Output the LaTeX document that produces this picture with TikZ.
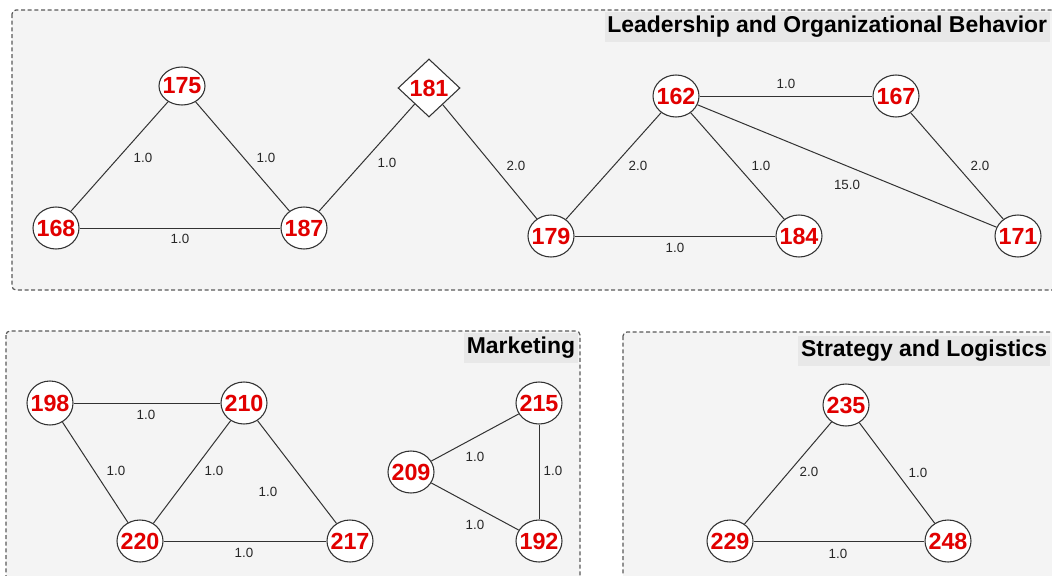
\documentclass[tikz,border=0pt]{standalone}
\usepackage{fontspec}
\setmainfont{Liberation Sans}
\usetikzlibrary{shapes.geometric}
\definecolor{boxfill}{RGB}{244,244,244}
\definecolor{titlefill}{RGB}{232,232,232}
\definecolor{boxline}{RGB}{90,90,90}
\definecolor{edgecol}{RGB}{50,50,50}
\definecolor{nodered}{RGB}{225,0,0}
\tikzset{
  grp/.style={draw=boxline, fill=boxfill, line width=0.9pt, dash pattern=on 3pt off 2pt, rounded corners=3pt},
  grptitle/.style={fill=titlefill, anchor=east, font=\fontsize{17.2}{18}\selectfont\bfseries, inner xsep=2pt, inner ysep=0pt, minimum height=22.5pt},
  vtxt/.style={text=nodered, font=\fontsize{17.5}{18}\selectfont\bfseries, inner sep=0pt},
  vert/.style={ellipse, draw=edgecol, fill=white, line width=0.8pt, minimum width=34.5pt, minimum height=31.5pt, inner sep=0pt, label={[vtxt]center:#1}},
  dvert/.style={diamond, draw=edgecol, fill=white, line width=0.8pt, minimum width=46.5pt, minimum height=43.5pt, inner sep=0pt, label={[vtxt]center:#1}},
  edge/.style={draw=edgecol, line width=0.75pt},
  lbl/.style={font=\fontsize{10}{10}\selectfont, text=black!85, inner sep=0pt}
}
\begin{document}
\begin{tikzpicture}[x=0.75pt, y=-0.75pt]
\path[use as bounding box, clip] (0,0) rectangle (1052,575);
\fill[white] (0,0) rectangle (1052,575);
% group boxes
\draw[grp] (12,10) rectangle (1070,290);
\draw[grp] (6,331) rectangle (580,600);
\draw[grp] (623,332) rectangle (1070,600);
\node[grptitle] (t1) at (1050,27) {Leadership and Organizational Behavior};
\node[grptitle] (t2) at (578,348) {Marketing};
\node[grptitle] (t3) at (1050,351) {Strategy and Logistics};
% vertices
\node[vert=175, minimum height=28.5pt] (v175) at (182,86) {};
\node[vert=168] (v168) at (56,228) {};
\node[vert=187] (v187) at (304,228) {};
\node[dvert=181] (v181) at (429,88) {};
\node[vert=162] (v162) at (676,96) {};
\node[vert=179] (v179) at (551,236) {};
\node[vert=167] (v167) at (896,96) {};
\node[vert=184] (v184) at (799,236) {};
\node[vert=171] (v171) at (1018,236) {};
\node[vert=198, minimum height=33pt] (v198) at (50,403) {};
\node[vert=210] (v210) at (244,403) {};
\node[vert=220] (v220) at (140,541) {};
\node[vert=217] (v217) at (350,541) {};
\node[vert=215] (v215) at (539,403) {};
\node[vert=209] (v209) at (411,472) {};
\node[vert=192] (v192) at (539,541) {};
\node[vert=235] (v235) at (846,405) {};
\node[vert=229] (v229) at (730,541) {};
\node[vert=248] (v248) at (948,541) {};
% edges
\draw[edge] (v168) -- (v175);
\draw[edge] (v175) -- (v187);
\draw[edge] (v168) -- (v187);
\draw[edge] (v187) -- (v181);
\draw[edge] (v181) -- (v179);
\draw[edge] (v179) -- (v162);
\draw[edge] (v162) -- (v184);
\draw[edge] (v179) -- (v184);
\draw[edge] (v162) -- (v167);
\draw[edge] (v162) -- (v171);
\draw[edge] (v167) -- (v171);
\draw[edge] (v198) -- (v210);
\draw[edge] (v198) -- (v220);
\draw[edge] (v220) -- (v210);
\draw[edge] (v210) -- (v217);
\draw[edge] (v220) -- (v217);
\draw[edge] (v209) -- (v215);
\draw[edge] (v215) -- (v192);
\draw[edge] (v209) -- (v192);
\draw[edge] (v235) -- (v229);
\draw[edge] (v235) -- (v248);
\draw[edge] (v229) -- (v248);
% labels
\node[lbl] (l1) at (143,158) {1.0};
\node[lbl] (l2) at (266,158) {1.0};
\node[lbl] (l3) at (180,239) {1.0};
\node[lbl] (l4) at (387,163) {1.0};
\node[lbl] (l5) at (516,166) {2.0};
\node[lbl] (l6) at (638,166) {2.0};
\node[lbl] (l7) at (761,166) {1.0};
\node[lbl] (l8) at (675,248) {1.0};
\node[lbl] (l9) at (786,84) {1.0};
\node[lbl] (l10) at (847,185) {15.0};
\node[lbl] (l11) at (980,166) {2.0};
\node[lbl] (l12) at (146,415) {1.0};
\node[lbl] (l13) at (116,471) {1.0};
\node[lbl] (l14) at (214,471) {1.0};
\node[lbl] (l15) at (268,492) {1.0};
\node[lbl] (l16) at (244,553) {1.0};
\node[lbl] (l17) at (475,457) {1.0};
\node[lbl] (l18) at (553,471) {1.0};
\node[lbl] (l19) at (475,525) {1.0};
\node[lbl] (l20) at (809,472) {2.0};
\node[lbl] (l21) at (918,473) {1.0};
\node[lbl] (l22) at (838,554) {1.0};
\end{tikzpicture}
\end{document}
